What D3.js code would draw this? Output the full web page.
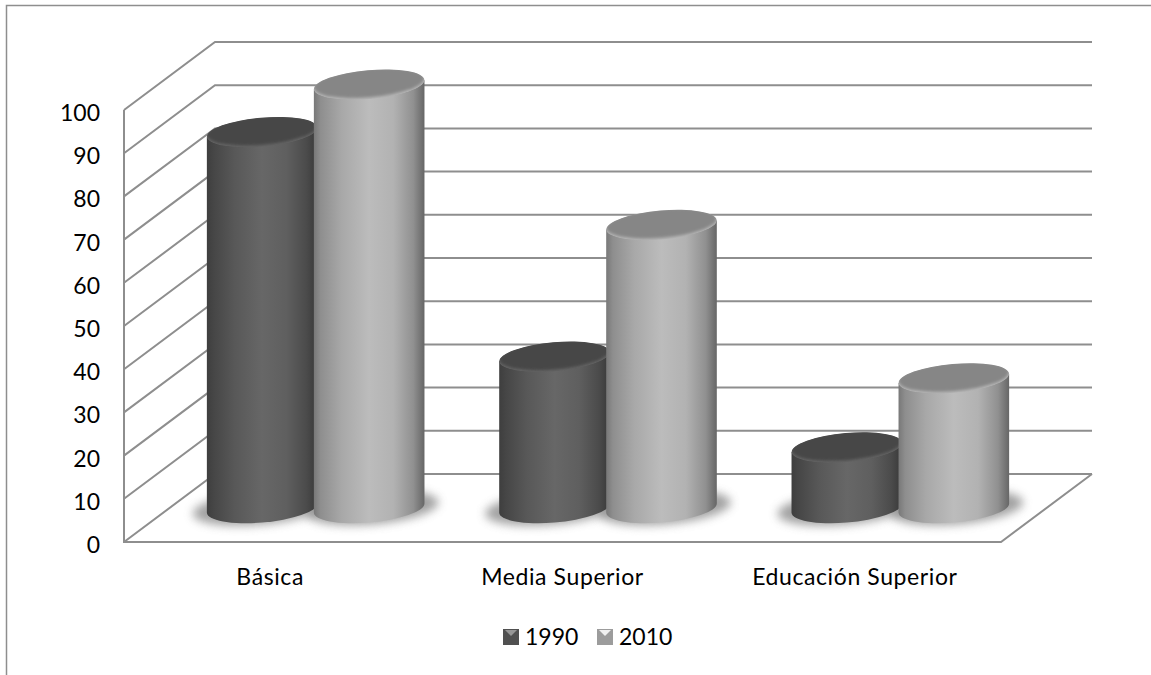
<!DOCTYPE html>
<html><head><meta charset="utf-8">
<script src="https://d3js.org/d3.v7.min.js"></script>
<style>html,body{margin:0;padding:0;background:#fff}svg{display:block}text{font-family:Lato,"Open Sans",sans-serif;fill:#000}</style>
</head><body><svg id="c" width="1151" height="675"></svg>
<script>
const categories=["Básica","Media Superior","Educación Superior"];
const seriesNames=["1990","2010"];
const values1990=[87,35,14];
const values2010=[98,65.5,30];
const yTicks=d3.range(0,101,10);

const W=1151,H=675;
const svg=d3.select("#c");
const defs=svg.append("defs");
const GRID="#8e8e8e";
// front plane geometry and depth vector
const fx0=124,fx1=1001,fy0=542,fy1=110,ddx=91,ddy=-68;
const y=d3.scaleLinear().domain([0,100]).range([fy0,fy1]);
const xFront=d3.scaleBand().domain(categories).range([fx0,fx1]);
const midX=fx0+ddx/2, midStep=xFront.step();
const xMid=c=>midX+xFront(c)-fx0+midStep/2;
const midY=v=>y(v)+ddy/2;
const barOffset=d3.scaleBand().domain(seriesNames).range([-107,107]);

// gradients
function hGrad(id,stops){const g=defs.append("linearGradient").attr("id",id).attr("x1",0).attr("x2",1).attr("y1",0).attr("y2",0);
 stops.forEach(([o,c])=>g.append("stop").attr("offset",o).attr("stop-color",c));}
hGrad("body0",[[0,"#3e3e3e"],[.06,"#464646"],[.25,"#585858"],[.5,"#676767"],[.72,"#5f5f5f"],[.9,"#4b4b4b"],[1,"#383838"]]);
hGrad("body1",[[0,"#787878"],[.06,"#8e8e8e"],[.25,"#a8a8a8"],[.5,"#bcbcbc"],[.72,"#b2b2b2"],[.9,"#909090"],[1,"#666666"]]);
const f=defs.append("filter").attr("id","blur").attr("x","-30%").attr("y","-80%").attr("width","160%").attr("height","260%");
f.append("feGaussianBlur").attr("stdDeviation",5);
const f2=defs.append("filter").attr("id","soft").attr("x","-20%").attr("y","-40%").attr("width","140%").attr("height","180%");
f2.append("feGaussianBlur").attr("stdDeviation",1.4);

// frame
svg.append("path").attr("d",`M${W},5.5H6.5V${H}`).attr("fill","none").attr("stroke","#8e8e8e").attr("stroke-width",1.5);

// walls and gridlines
const grid=svg.append("g").attr("fill","none").attr("stroke",GRID).attr("stroke-width",2);
yTicks.forEach(t=>{
 grid.append("path").attr("d",`M${fx0},${y(t)}L${fx0+ddx},${y(t)+ddy}H${fx1+ddx}`);
});
grid.append("path").attr("d",`M${fx0},${y(100)}V${fy0}H${fx1}L${fx1+ddx},${fy0+ddy}`);

// value axis labels
const ax=svg.append("g").attr("transform",`translate(100,0)`).call(d3.axisLeft(y).tickValues(yTicks).tickSize(0).tickPadding(0).tickFormat(d3.format("d")));
ax.select(".domain").remove();
ax.selectAll("text").style("font-size","23px").attr("dy","0.46em");

// cylinders
const a=55.5,b=14.5,rotDeg=-5,rot=rotDeg*Math.PI/180;
const ex=Math.sqrt(a*a*Math.cos(rot)**2+b*b*Math.sin(rot)**2);
const ey=(a*a-b*b)*Math.sin(rot)*Math.cos(rot)/ex;
const bars=[];
categories.forEach((c,i)=>{bars.push({c,s:0,v:values1990[i]});bars.push({c,s:1,v:values2010[i]});});
const cx=d=>xMid(d.c)+barOffset(seriesNames[d.s])+barOffset.bandwidth()/2;
const shadows=svg.append("g");
bars.forEach(d=>{
 shadows.append("ellipse").attr("cx",cx(d)+(d.s?3:-3)).attr("cy",midY(0)).attr("rx",a+11).attr("ry",b+2)
  .attr("transform",`rotate(${rotDeg} ${cx(d)} ${midY(0)})`).attr("fill","#8a8a8a").attr("opacity",.8).attr("filter","url(#blur)");
});
const tone=["#474747","#868686"],hi=["#666666","#b8b8b8"];
bars.forEach((d,i)=>{
 const g=svg.append("g"),x=cx(d),yT=midY(d.v),yB=midY(0),rt=`rotate(${rotDeg} ${x} ${yT})`;
 g.append("path").attr("d",`M${x+ex},${yT+ey}L${x+ex},${yB+ey}A${a} ${b} ${rotDeg} 0 1 ${x-ex},${yB-ey}L${x-ex},${yT-ey}Z`)
  .attr("fill",`url(#body${d.s})`);
 // top cap: bevel rim then soft inner face
 const clip="capclip"+i;
 defs.append("clipPath").attr("id",clip).append("ellipse").attr("cx",x).attr("cy",yT).attr("rx",a).attr("ry",b).attr("transform",rt);
 const cap=g.append("g").attr("clip-path",`url(#${clip})`);
 cap.append("ellipse").attr("cx",x).attr("cy",yT).attr("rx",a).attr("ry",b).attr("transform",rt).attr("fill",hi[d.s]);
 cap.append("ellipse").attr("cx",x).attr("cy",yT-1.8).attr("rx",a).attr("ry",b).attr("transform",rt).attr("fill",tone[d.s]).attr("filter","url(#soft)");
});

// category labels
svg.append("g").selectAll("text").data(categories).join("text")
 .attr("x",c=>xFront(c)+xFront.bandwidth()/2).attr("y",585)
 .attr("text-anchor","middle").style("font-size","23px").style("letter-spacing","0.6px").text(c=>c);

// legend
const legendX=d3.scalePoint().domain(seriesNames).range([503,597]);
const legendFill=[["#505050","#969696"],["#9c9c9c","#f0f0f0"]];
seriesNames.forEach((s,i)=>{
 const x=legendX(s),g=svg.append("g").attr("transform",`translate(${x},629)`);
 g.append("rect").attr("width",16).attr("height",16).attr("fill",legendFill[i][0]);
 g.append("path").attr("d","M2,1H14L8,7Z").attr("fill",legendFill[i][1]);
 svg.append("text").attr("x",x+22).attr("y",645).style("font-size","23px").text(s);
});
</script></body></html>
